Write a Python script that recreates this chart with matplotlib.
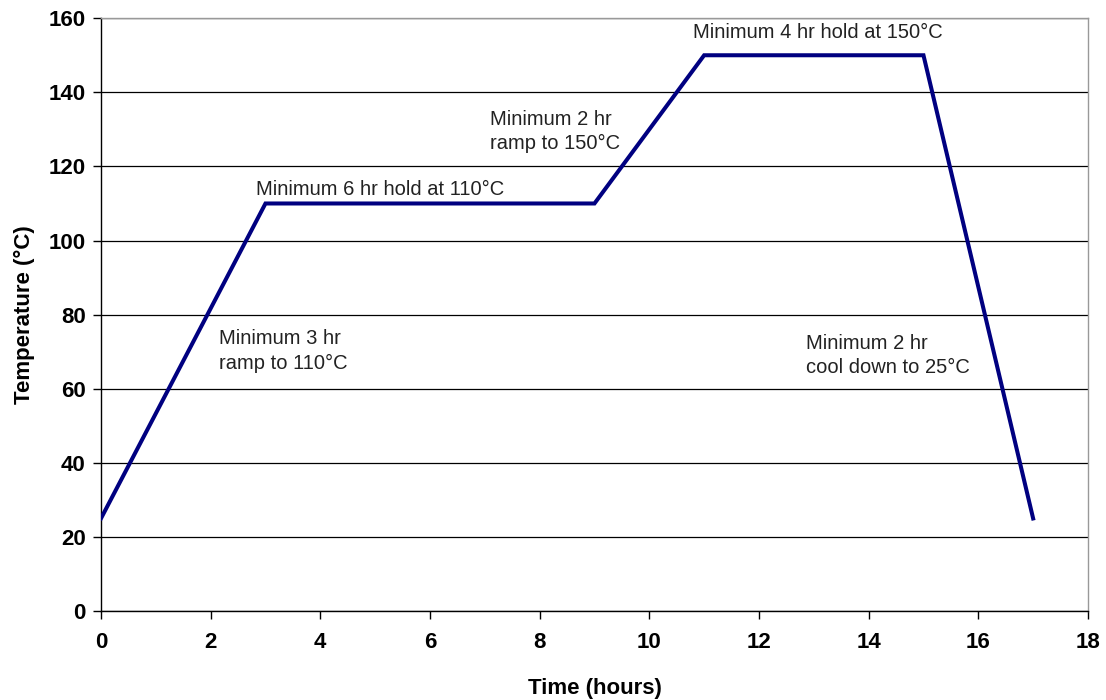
import matplotlib.pyplot as plt

# cure schedule: time (hours) vs oven temperature (deg C)
hours = [0, 3, 9, 11, 15, 17]
temps = [25, 110, 110, 150, 150, 25]

step_notes = [
    "Minimum 3 hr\nramp to 110°C",
    "Minimum 6 hr hold at 110°C",
    "Minimum 2 hr\nramp to 150°C",
    "Minimum 4 hr hold at 150°C",
    "Minimum 2 hr\ncool down to 25°C",
]

x_ticks = list(range(0, 19, 2))
y_ticks = list(range(0, 161, 20))

# where each note sits (data coords, left edge / vertical centre)
note_xy = [(2.15, 70.2), (2.83, 113.8), (7.09, 129.5), (10.80, 156.2), (12.86, 69.0)]

plt.rcParams["font.family"] = ["Liberation Sans", "DejaVu Sans"]

fig = plt.figure(figsize=(11.06, 7.0), dpi=100)
ax = fig.add_axes([0.0913, 0.127, 0.8924, 0.847])

ax.plot(hours, temps, color="#000080", linewidth=2.9, solid_joinstyle="miter",
        zorder=3)

ax.set_xlim(0, 18)
ax.set_ylim(0, 160)
ax.set_xticks(x_ticks)
ax.set_yticks(y_ticks)

ax.yaxis.grid(True, color="black", linewidth=0.9)
ax.set_axisbelow(True)

for side in ["top", "right"]:
    ax.spines[side].set_color("#999999")
    ax.spines[side].set_linewidth(1.0)
for side in ["left", "bottom"]:
    ax.spines[side].set_color("black")
    ax.spines[side].set_linewidth(1.0)

ax.tick_params(axis="both", direction="out", length=6, width=1.0,
               labelsize=16, color="black")
ax.tick_params(axis="y", pad=5)
ax.tick_params(axis="x", pad=9)
for lbl in ax.get_xticklabels() + ax.get_yticklabels():
    lbl.set_fontweight("bold")

ax.set_xlabel("Time (hours)", fontsize=16, fontweight="bold", labelpad=18)
ax.set_ylabel("Temperature (°C)", fontsize=16, fontweight="bold", labelpad=10)

for note, (x, y) in zip(step_notes, note_xy):
    ax.text(x, y, note, fontsize=14.5, color="#222222", ha="left",
            va="center", linespacing=1.35)

fig.savefig("out.png", dpi=100, facecolor="white")
